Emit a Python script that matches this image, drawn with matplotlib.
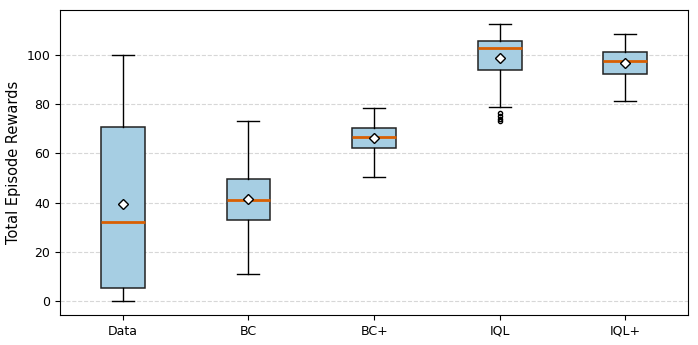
import matplotlib
matplotlib.use("Agg")
import matplotlib.pyplot as plt

labels = ["Data", "BC", "BC+", "IQL", "IQL+"]
whislo = [0.0, 10.9, 50.6, 78.8, 81.3]
q1 = [5.3, 33.1, 62.2, 93.8, 92.3]
med = [32.0, 40.9, 66.8, 102.8, 97.6]
q3 = [70.9, 49.7, 70.2, 105.7, 101.3]
whishi = [100.0, 73.3, 78.4, 112.8, 108.4]
means = [39.5, 41.3, 66.3, 98.7, 96.9]
fliers = [[], [], [], [76.3, 75.2, 74.1, 73.1], []]

stats = []
for i in range(len(labels)):
    stats.append(dict(label=labels[i], whislo=whislo[i], q1=q1[i], med=med[i],
                      q3=q3[i], whishi=whishi[i], mean=means[i], fliers=fliers[i]))

fig, ax = plt.subplots(figsize=(6.98, 3.45), dpi=100)
ax.bxp(stats, widths=0.35, showmeans=True, patch_artist=True,
       boxprops=dict(facecolor="#a6cee3", edgecolor="#222222", linewidth=1.1),
       medianprops=dict(color="#d95f02", linewidth=2),
       meanprops=dict(marker="D", markerfacecolor="white", markeredgecolor="black", markersize=5.5),
       whiskerprops=dict(color="black", linewidth=1),
       capprops=dict(color="black", linewidth=1),
       flierprops=dict(marker="o", markersize=3, markerfacecolor="none", markeredgecolor="black"))

ax.set_ylabel("Total Episode Rewards", fontsize=10.5)
ax.tick_params(labelsize=9)
ax.yaxis.grid(True, linestyle="--", color="lightgray", alpha=0.9)
ax.set_axisbelow(True)

fig.subplots_adjust(left=0.086, right=0.986, top=0.972, bottom=0.087)
fig.savefig("out.png")
